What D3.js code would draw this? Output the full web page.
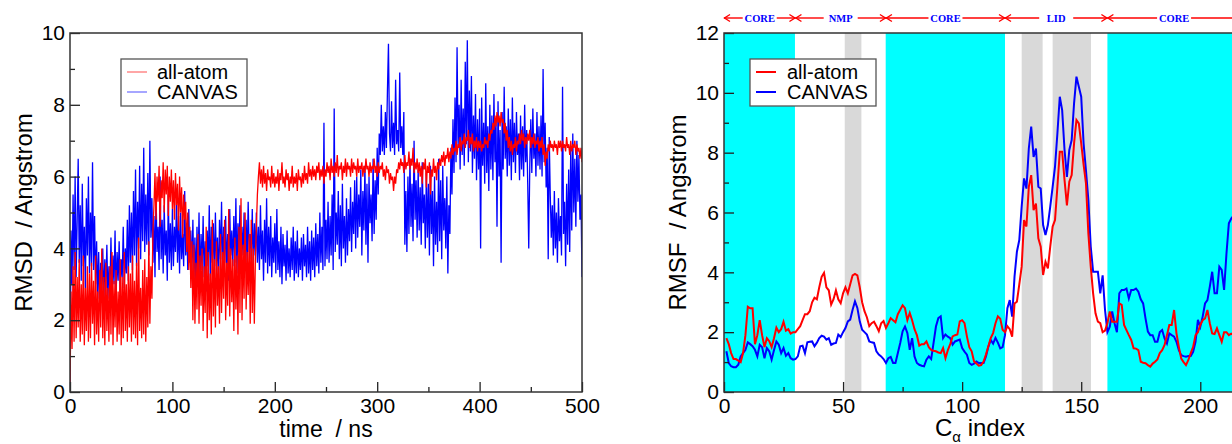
<!DOCTYPE html>
<html><head><meta charset="utf-8">
<script src="https://cdn.jsdelivr.net/npm/d3@7"></script>
<style>
html,body{margin:0;padding:0;background:#fff;}
svg{display:block;}
</style></head><body><svg id="c" width="1232" height="444"></svg>
<script>
// ---------------- DATA ----------------
// Left panel: RMSD vs time (one value per ns, t = 0..500)
const rmsdAllAtom = [
0.0,2.8,1.2,3.5,1.4,3.9,1.5,3.2,1.8,3.7,1.4,3.0,1.6,3.8,1.3,2.9,1.7,3.5,1.4,3.3,
1.5,3.6,1.9,3.1,1.3,3.8,1.6,2.8,1.4,3.4,1.8,4.0,1.5,3.2,1.3,3.6,1.7,2.9,1.4,3.5,
1.6,3.9,1.3,3.1,1.8,3.4,1.4,2.8,1.6,3.7,1.3,3.2,1.5,3.9,1.7,3.0,1.4,3.5,1.8,3.3,
1.4,3.8,1.6,3.1,1.5,3.6,1.3,4.3,1.7,2.9,1.5,3.4,1.6,3.7,1.4,3.2,1.8,4.2,1.9,3.5,
2.6,4.5,5.2,6.1,4.8,6.0,5.3,6.3,4.6,5.9,5.4,6.4,5.0,6.2,5.5,6.3,4.9,6.0,5.3,6.2,
5.1,5.9,4.8,6.1,5.2,5.8,4.5,6.0,5.0,5.7,4.3,5.5,4.8,5.3,3.9,5.0,3.4,4.6,2.9,4.2,
2.0,4.1,1.9,3.6,2.3,4.4,1.9,3.8,2.4,4.0,1.7,3.5,2.2,4.6,1.5,3.9,2.0,3.3,1.6,4.8,
2.1,3.7,1.8,4.2,2.4,3.5,1.9,4.4,2.2,3.9,2.6,4.8,2.0,3.6,2.4,5.1,2.1,4.0,2.5,3.7,
1.7,4.3,2.3,3.8,1.6,4.6,2.2,5.4,2.0,4.1,2.6,5.0,2.3,3.9,2.7,4.4,1.9,4.8,2.2,4.0,
1.9,3.6,4.6,5.5,6.0,6.4,5.8,6.2,5.7,6.3,5.8,6.1,5.6,6.2,5.9,6.0,5.7,6.3,5.8,6.1,
5.7,6.0,5.8,6.2,5.6,6.1,5.9,6.4,5.8,6.0,5.7,6.2,5.9,6.1,5.6,6.0,5.8,6.3,5.7,6.0,
5.8,6.1,5.6,6.2,5.9,6.0,5.7,6.1,5.8,6.3,5.9,6.1,5.8,6.4,6.0,6.2,5.9,6.3,6.0,6.2,
5.9,6.3,6.1,6.4,5.9,6.2,6.0,6.3,5.8,6.2,6.0,6.4,6.1,6.3,5.9,6.5,6.1,6.3,6.0,6.4,
6.1,6.6,6.0,6.3,6.2,6.4,5.9,6.3,6.1,6.5,6.0,6.4,6.2,6.3,6.0,6.5,6.1,6.4,6.2,6.3,
6.0,6.5,6.1,6.3,6.2,6.4,6.0,6.3,6.1,6.5,6.2,6.3,6.0,6.4,6.1,6.3,6.2,6.5,6.1,6.3,
6.0,6.4,6.1,6.3,6.2,6.4,6.0,6.2,5.9,6.3,6.1,6.2,5.8,6.1,5.9,6.0,5.6,6.0,5.8,6.2,
6.1,6.4,6.2,6.5,6.3,6.4,6.1,6.6,6.2,6.4,6.3,6.7,6.2,6.5,6.3,6.8,6.1,6.4,6.2,6.5,
6.1,6.4,6.0,6.3,5.8,6.4,6.2,6.5,5.7,6.3,6.1,6.4,5.5,6.2,6.0,6.5,6.1,6.3,5.9,6.4,
6.2,6.5,6.3,6.6,6.4,6.7,6.3,6.6,6.5,6.8,6.4,6.7,6.5,6.9,6.6,6.8,6.7,7.0,6.6,6.9,
6.8,7.1,6.7,7.0,6.9,7.2,6.8,7.1,7.0,7.3,6.8,7.1,6.9,7.2,6.7,7.0,6.8,7.1,6.7,7.0,
6.8,7.0,6.7,6.9,6.8,7.1,6.9,7.0,6.8,7.2,7.0,7.3,7.2,7.5,7.3,7.7,7.4,7.8,7.5,7.7,
7.4,7.8,7.5,7.6,7.2,7.5,7.0,7.3,6.8,7.1,6.7,7.0,6.6,6.9,6.8,7.1,6.7,7.0,6.9,7.2,
6.9,7.3,7.0,7.2,6.8,7.1,6.9,7.2,7.0,7.3,6.8,7.1,6.9,7.2,6.8,7.0,6.9,7.1,6.7,7.0,
6.8,7.1,6.6,6.9,6.3,6.7,6.5,6.9,6.7,7.0,6.8,6.9,6.7,7.0,6.8,6.9,6.6,7.0,6.8,7.0,
6.7,7.0,6.8,6.9,6.7,7.1,6.8,6.9,6.6,7.0,6.7,6.9,6.8,7.0,6.6,6.9,6.7,6.8,6.5,6.8,6.4
];
const rmsdCanvas = [
0.0,4.5,3.0,5.5,3.4,6.0,3.2,4.8,6.5,3.6,5.2,3.1,5.8,3.5,4.6,2.9,5.4,3.8,6.0,3.3,
5.0,3.5,6.4,3.4,4.9,3.0,4.2,2.6,3.9,2.4,3.6,2.8,4.0,2.5,3.7,2.9,4.1,2.6,3.5,2.8,
4.3,2.7,3.8,3.0,4.5,2.6,3.9,3.1,4.2,2.8,3.7,3.2,4.6,2.9,4.0,3.3,4.8,3.1,5.2,3.6,
5.0,3.4,5.6,3.8,6.2,3.5,5.3,4.0,6.3,3.7,5.8,4.2,6.8,3.9,5.5,4.1,6.1,3.8,7.0,4.3,
5.4,3.6,4.9,3.2,5.6,3.9,4.6,3.4,6.0,3.7,4.8,3.3,5.2,3.8,4.5,3.1,5.5,3.6,4.7,3.4,
5.1,3.5,4.6,3.9,5.3,3.6,4.9,3.3,5.0,3.7,4.4,3.5,5.6,3.8,4.7,3.4,5.1,3.6,4.5,3.3,
4.8,3.1,4.3,2.9,4.6,3.3,5.0,3.0,4.4,3.4,4.9,3.2,4.2,2.8,4.5,3.5,5.2,3.1,4.6,3.6,
4.7,3.2,5.0,3.5,4.3,3.0,4.8,3.7,5.3,3.3,4.6,3.6,4.9,3.4,4.4,3.1,5.1,3.8,4.5,3.5,
4.9,3.6,5.4,3.3,4.7,3.9,5.2,3.5,4.6,3.8,5.0,3.4,4.8,3.6,5.3,3.9,4.4,3.7,5.1,3.5,
4.7,3.8,5.0,3.6,4.6,3.4,5.2,3.7,4.5,3.1,4.8,3.6,5.4,3.3,4.6,3.5,4.9,3.2,4.3,3.6,
4.7,3.3,5.1,3.4,4.2,3.2,4.6,3.0,4.4,3.5,4.1,3.1,4.5,3.3,4.0,3.2,4.3,3.4,4.6,3.1,
4.2,3.3,4.5,3.2,4.0,3.4,4.3,3.1,4.4,3.5,4.1,3.2,4.6,3.3,4.2,3.1,4.5,3.4,4.3,3.2,
4.7,3.5,4.4,3.3,5.0,3.6,4.6,3.4,7.5,3.5,4.8,3.7,5.3,3.6,4.9,3.8,5.5,3.4,7.9,3.9,
5.0,4.1,5.6,3.7,5.2,3.5,5.8,4.0,4.9,3.6,5.4,3.8,5.1,4.2,5.7,3.9,5.3,4.4,5.9,4.0,
6.0,4.3,5.5,4.6,6.2,3.8,5.6,4.5,6.3,4.1,5.8,3.6,6.0,4.7,5.5,4.2,6.5,4.4,5.9,4.8,
6.8,5.5,7.2,6.6,8.0,6.7,7.4,6.6,7.8,6.8,8.4,9.7,7.2,6.7,8.1,6.8,7.5,6.6,8.7,6.9,
7.3,6.7,8.9,6.8,7.4,6.6,7.8,4.1,5.6,3.9,6.0,4.4,6.5,4.6,5.8,4.2,7.0,4.8,5.9,4.3,
6.2,4.5,5.7,4.1,6.4,4.7,5.5,4.0,6.1,4.3,5.8,3.8,6.3,4.4,5.6,3.5,6.0,4.1,5.3,3.9,
6.5,4.2,5.9,3.7,6.3,4.5,5.4,4.0,6.0,3.3,5.2,4.4,6.8,5.5,7.6,6.1,8.2,6.4,9.6,6.8,
8.0,6.2,8.7,6.6,7.9,6.3,9.2,6.9,9.8,6.4,8.4,6.7,8.8,6.1,7.7,6.5,8.3,5.9,7.6,6.2,
7.9,4.0,8.2,6.3,7.5,5.8,8.6,6.1,7.4,5.6,8.0,6.2,7.7,5.9,8.3,6.4,7.6,4.6,8.1,6.0,
7.3,3.6,7.8,6.2,8.5,6.5,7.4,6.0,7.9,6.3,7.6,5.9,8.2,6.4,7.5,6.1,7.8,6.6,7.2,5.9,
7.7,6.2,7.4,6.0,8.0,6.4,7.3,5.8,4.0,6.3,7.6,6.1,7.9,6.5,7.2,6.0,7.8,6.3,7.4,6.2,
7.7,6.0,9.0,6.4,7.5,5.7,6.8,3.7,7.1,5.5,4.3,5.2,3.8,5.6,4.0,5.0,3.6,5.4,4.2,4.9,
3.8,8.5,4.4,5.3,3.5,5.8,4.1,6.2,3.9,6.8,4.5,7.2,5.0,6.5,4.6,7.0,5.3,6.6,4.8,5.5,3.2
];
const timeStepNs = 1;

// Right panel: RMSF per residue (C-alpha index 1..214)
const rmsfAllAtom = [
1.8,1.6,1.3,1.1,1.1,1.05,1.0,1.3,1.9,2.85,
2.8,2.8,1.6,1.9,2.4,1.9,1.5,1.8,1.7,1.5,
1.8,2.15,2.0,2.1,2.35,2.05,2.1,1.95,2.0,2.0,
2.1,2.2,2.4,2.6,2.6,2.7,3.0,3.15,3.1,3.5,
3.85,3.98,3.5,3.4,2.92,3.1,3.4,3.1,2.97,3.3,
3.5,3.3,3.6,3.9,3.95,3.9,3.5,3.0,2.7,2.5,
2.2,2.3,2.35,2.2,2.03,2.3,2.37,2.14,2.3,2.47,
2.4,2.33,2.6,2.75,2.9,2.8,2.4,2.64,2.4,2.1,
1.9,1.55,1.6,1.6,1.69,1.5,1.41,1.38,1.36,1.32,
1.3,1.47,1.13,1.4,1.6,1.86,1.9,1.92,2.36,2.4,
2.3,1.86,1.5,1.36,1.02,0.95,0.88,0.9,1.02,1.25,
1.53,1.8,1.97,2.3,2.53,2.45,2.08,2.0,2.2,2.1,
1.85,2.96,3.02,3.6,4.19,5.75,5.53,6.86,7.25,6.08,
6.3,5.14,4.86,3.91,4.35,4.13,4.86,5.53,5.75,6.86,
8.03,8.03,7.08,6.24,7.03,7.25,8.31,9.09,8.98,8.31,
7.6,6.97,5.3,4.2,3.3,2.63,2.35,2.3,2.0,2.05,
2.3,2.69,2.35,2.35,2.35,2.96,2.91,2.24,2.07,1.9,
1.74,1.46,1.45,1.4,1.01,0.98,0.96,0.9,0.85,0.95,
1.01,1.09,1.3,1.4,1.57,1.9,2.24,2.24,2.74,1.96,
1.51,1.12,1.0,0.9,1.07,1.3,1.51,1.9,2.0,2.24,
2.4,2.46,2.74,2.3,1.96,1.94,2.13,1.9,1.68,2.0,
2.0,1.9,1.95,1.9
];
const rmsfCanvas = [
1.36,0.97,0.86,0.83,0.83,0.91,1.19,1.3,1.41,1.66,
1.6,1.53,1.41,1.19,1.58,1.5,1.13,1.47,1.36,1.08,
1.4,1.69,1.58,1.3,1.47,1.21,1.3,1.13,1.08,1.1,
1.19,1.53,1.55,1.3,1.66,1.68,1.69,1.53,1.65,1.8,
1.88,1.85,1.75,1.8,1.58,1.62,1.64,1.92,1.84,2.0,
2.14,2.36,2.42,2.75,3.03,2.81,2.36,2.08,2.0,1.92,
1.69,1.66,1.64,1.36,1.25,1.19,1.1,0.97,1.13,1.17,
0.97,0.97,1.3,1.64,2.03,2.19,1.97,1.41,1.8,1.19,
0.97,0.91,0.88,0.86,1.08,1.19,1.1,1.64,2.19,2.47,
2.53,1.8,1.92,1.85,1.8,1.58,1.69,1.72,1.75,1.47,
1.35,1.25,0.97,0.91,0.95,1.02,0.97,0.97,0.97,1.19,
1.51,1.74,1.62,1.81,1.65,1.46,1.5,1.9,2.8,3.07,
2.52,3.86,4.69,5.08,6.2,7.14,6.8,8.14,8.87,7.86,
8.14,6.86,6.8,5.58,5.25,5.58,6.2,6.86,7.53,8.64,
9.87,9.42,8.09,7.19,8.09,8.42,9.65,10.54,10.2,9.87,
8.31,7.4,6.42,4.86,4.02,4.02,4.02,3.3,3.9,2.74,
2.0,2.18,2.69,2.3,2.0,3.3,3.41,3.41,3.46,3.13,
3.41,3.41,3.46,3.35,3.1,2.96,2.46,2.02,1.9,1.9,
1.68,1.68,2.0,2.07,1.79,1.62,1.96,1.9,1.85,1.68,
1.4,1.23,1.2,1.18,1.2,1.2,1.34,1.68,2.41,2.18,
2.52,2.96,3.07,3.52,4.02,3.3,3.3,4.19,4.08,3.41,
4.63,5.64,5.8,5.9
];
const firstResidue = 1;

// Domain regions along residue index
const cyanRegions = [[0, 29.8], [67.9, 118], [161, 230]];
const grayRegions = [[50.7, 57.7], [125, 133.8], [138, 154.1]];
const domainBounds = [0, 30, 68, 118, 161, 217];
const domainLabels = ["CORE", "NMP", "CORE", "LID", "CORE"];

// Ticks
const leftXMajor = [0, 100, 200, 300, 400, 500];
const leftXMinor = [50, 150, 250, 350, 450];
const leftYMajor = [0, 2, 4, 6, 8, 10];
const leftYMinor = [1, 3, 5, 7, 9];
const rightXMajor = [0, 50, 100, 150, 200];
const rightXMinor = [25, 75, 125, 175];
const rightYMajor = [0, 2, 4, 6, 8, 10, 12];
const rightYMinor = [1, 3, 5, 7, 9, 11];

const seriesNames = ["all-atom", "CANVAS"];

// ---------------- DRAW ----------------
const SANS = "'Liberation Sans', Arial, Helvetica, sans-serif";
const svg = d3.select("#c");
svg.append("rect").attr("width", 1232).attr("height", 444).attr("fill", "#fff");

const PL = {x0: 70, x1: 582, y0: 33, y1: 392};
const PR = {x0: 724, x1: 1236, y0: 33, y1: 392};

const xL = d3.scaleLinear().domain([0, 500]).range([PL.x0, PL.x1]);
const yL = d3.scaleLinear().domain([0, 10]).range([PL.y1, PL.y0]);
const xR = d3.scaleLinear().domain([0, 215]).range([PR.x0, PR.x1]);
const yR = d3.scaleLinear().domain([0, 12]).range([PR.y1, PR.y0]);

const defs = svg.append("defs");
defs.append("clipPath").attr("id", "clipL").append("rect")
  .attr("x", PL.x0).attr("y", PL.y0).attr("width", PL.x1 - PL.x0).attr("height", PL.y1 - PL.y0);
defs.append("clipPath").attr("id", "clipR").append("rect")
  .attr("x", PR.x0).attr("y", PR.y0).attr("width", PR.x1 - PR.x0).attr("height", PR.y1 - PR.y0);

function axes(x, y, P, xMaj, xMin, yMaj, yMin) {
  const g = svg.append("g");
  const style = sel => {
    sel.select(".domain").remove();
    sel.selectAll(".tick line").attr("stroke", "#222").attr("stroke-width", 1.3);
    sel.selectAll("text").attr("font-family", SANS).attr("font-size", 21).attr("fill", "#000");
  };
  g.append("g").attr("transform", `translate(0,${P.y1})`)
    .call(d3.axisBottom(x).tickValues(xMin).tickSize(-5).tickSizeOuter(0).tickFormat("")).call(style);
  g.append("g").attr("transform", `translate(0,${P.y1})`)
    .call(d3.axisBottom(x).tickValues(xMaj).tickSize(-10).tickSizeOuter(0).tickPadding(6).tickFormat(d3.format("d"))).call(style);
  g.append("g").attr("transform", `translate(${P.x0},0)`)
    .call(d3.axisLeft(y).tickValues(yMin).tickSize(-5).tickSizeOuter(0).tickFormat("")).call(style);
  g.append("g").attr("transform", `translate(${P.x0},0)`)
    .call(d3.axisLeft(y).tickValues(yMaj).tickSize(-10).tickSizeOuter(0).tickPadding(5).tickFormat(d3.format("d"))).call(style);
  svg.append("rect").attr("x", P.x0).attr("y", P.y0).attr("width", P.x1 - P.x0).attr("height", P.y1 - P.y0)
    .attr("fill", "none").attr("stroke", "#333").attr("stroke-width", 1.5);
}

function legend(x, y, w, h, lineW, colors, textX) {
  const g = svg.append("g");
  g.append("rect").attr("x", x).attr("y", y).attr("width", w).attr("height", h)
    .attr("fill", "#fff").attr("stroke", "#555").attr("stroke-width", 1.3);
  seriesNames.forEach((n, i) => {
    const cy = y + 13 + i * 20;
    g.append("line").attr("x1", x + 6).attr("x2", x + 26).attr("y1", cy).attr("y2", cy)
      .attr("stroke", colors[i]).attr("stroke-width", lineW);
    g.append("text").attr("x", textX).attr("y", cy + 7).text(n)
      .attr("font-family", SANS).attr("font-size", 20).attr("fill", "#000");
  });
}

// ----- Left panel -----
const lineL = d3.line().x((d, i) => xL(i * timeStepNs)).y(d => yL(d));
const gL = svg.append("g").attr("clip-path", "url(#clipL)");
gL.append("path").datum(rmsdCanvas).attr("d", lineL).attr("fill", "none")
  .attr("stroke", "#0000ff").attr("stroke-width", 1.3);
gL.append("path").datum(rmsdAllAtom).attr("d", lineL).attr("fill", "none")
  .attr("stroke", "#ff0000").attr("stroke-width", 1.3);
axes(xL, yL, PL, leftXMajor, leftXMinor, leftYMajor, leftYMinor);
legend(121, 59, 126, 47, 1.2, ["#ff6b6b", "#6b6bff"], 157);

svg.append("text").attr("transform", `translate(32,${(PL.y0 + PL.y1) / 2}) rotate(-90)`)
  .attr("text-anchor", "middle").attr("font-family", SANS).attr("font-size", 24)
  .style("white-space", "pre").text("RMSD  / Angstrom");
svg.append("text").attr("x", (PL.x0 + PL.x1) / 2).attr("y", 437)
  .attr("text-anchor", "middle").attr("font-family", SANS).attr("font-size", 23)
  .style("white-space", "pre").text("time  / ns");

// ----- Right panel -----
const gR = svg.append("g").attr("clip-path", "url(#clipR)");
gR.selectAll("rect.cy").data(cyanRegions).join("rect").attr("class", "cy")
  .attr("x", d => xR(d[0])).attr("width", d => xR(d[1]) - xR(d[0]))
  .attr("y", PR.y0).attr("height", PR.y1 - PR.y0).attr("fill", "#00ffff");
gR.selectAll("rect.gr").data(grayRegions).join("rect").attr("class", "gr")
  .attr("x", d => xR(d[0])).attr("width", d => xR(d[1]) - xR(d[0]))
  .attr("y", PR.y0).attr("height", PR.y1 - PR.y0).attr("fill", "#d9d9d9");

const lineR = d3.line().x((d, i) => xR(i + firstResidue)).y(d => yR(d));
gR.append("path").datum(rmsfCanvas).attr("d", lineR).attr("fill", "none")
  .attr("stroke", "#0000ff").attr("stroke-width", 2);
gR.append("path").datum(rmsfAllAtom).attr("d", lineR).attr("fill", "none")
  .attr("stroke", "#ff0000").attr("stroke-width", 2);
axes(xR, yR, PR, rightXMajor, rightXMinor, rightYMajor, rightYMinor);
legend(750, 59, 126, 47, 2, ["#ff0000", "#0000ff"], 787);

svg.append("text").attr("transform", `translate(686,${(PR.y0 + PR.y1) / 2}) rotate(-90)`)
  .attr("text-anchor", "middle").attr("font-family", SANS).attr("font-size", 24)
  .style("white-space", "pre").text("RMSF  / Angstrom");
const xt = svg.append("text").attr("x", (PR.x0 + PR.x1) / 2).attr("y", 436)
  .attr("text-anchor", "middle").attr("font-family", SANS).attr("font-size", 24)
  .style("white-space", "pre");
xt.append("tspan").text("C");
xt.append("tspan").attr("font-size", 15).attr("dy", 6).text("α");
xt.append("tspan").attr("dy", -6).text(" index");

// Domain annotation arrows
const ay = 18, gap = 17, ah = 6, aw = 3.5;
const gA = svg.append("g");
domainLabels.forEach((lab, i) => {
  const a = xR(domainBounds[i]), b = xR(domainBounds[i + 1]);
  const c = (a + b) / 2;
  const st = {stroke: "#ff0000", "stroke-width": 1.4, fill: "none"};
  const add = (el) => { Object.entries(st).forEach(([k, v]) => el.attr(k, v)); return el; };
  add(gA.append("line").attr("x1", a).attr("x2", c - gap).attr("y1", ay).attr("y2", ay));
  add(gA.append("line").attr("x1", c + gap).attr("x2", b).attr("y1", ay).attr("y2", ay));
  add(gA.append("polyline").attr("points", `${a + ah},${ay - aw} ${a + 0.5},${ay} ${a + ah},${ay + aw}`));
  add(gA.append("polyline").attr("points", `${b - ah},${ay - aw} ${b - 0.5},${ay} ${b - ah},${ay + aw}`));
  gA.append("text").attr("x", c).attr("y", ay + 4).attr("text-anchor", "middle")
    .attr("font-family", "'Liberation Serif', 'Times New Roman', serif").attr("font-weight", "bold")
    .attr("font-size", 10.5).attr("fill", "#0000ff").text(lab);
});
</script></body></html>
